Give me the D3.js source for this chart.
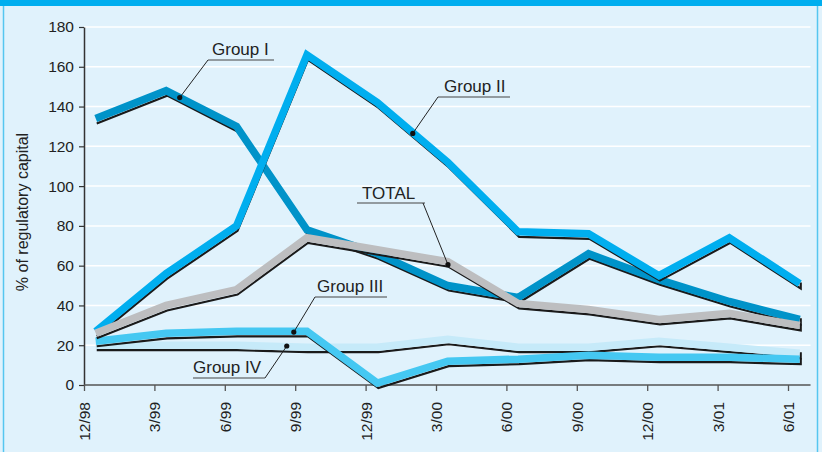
<!DOCTYPE html>
<html>
<head>
<meta charset="utf-8">
<script src="https://cdn.jsdelivr.net/npm/d3@7"></script>
<style>
	html, body { margin: 0; padding: 0; background: #e0f2fc; }
	svg { display: block; font-family: "Liberation Sans", Arial, sans-serif; }
</style>
</head>
<body>
<div id="chart"></div>
<script>
// quarter ends, x axis labels
const quarters = ["12/98", "3/99", "6/99", "9/99", "12/99", "3/00", "6/00", "9/00", "12/00", "3/01", "6/01"];
const yTicks = [0, 20, 40, 60, 80, 100, 120, 140, 160, 180];

// % of regulatory capital, one value per quarter
const groupI = [134, 148, 130, 78, 66, 50, 44, 66, 53, 42, 33];
const groupII = [27, 56, 80, 166, 142, 112, 77, 76, 55, 74, 51];
const total = [26, 40, 48, 74, 68, 62, 41, 38, 33, 36, 30];
const groupIII = [22, 26, 27, 27, 1, 12, 13, 15, 14, 14, 13];
const groupIV = [20, 20, 20, 19, 19, 23, 19, 19, 22, 19, 16];

const width = 822;
const height = 452;

const svg = d3.select("#chart")
	.append("svg")
	.attr("width", width)
	.attr("height", height);

// panel + header strip
svg.append("rect")
	.attr("width", width).attr("height", height)
	.attr("fill", "#e0f2fc");
svg.append("rect")
	.attr("x", 3.5).attr("y", 4).attr("width", 814).attr("height", height)
	.attr("fill", "none")
	.attr("stroke", "#55c6f0")
	.attr("stroke-width", 1.5);
svg.append("rect")
	.attr("width", width).attr("height", 6)
	.attr("fill", "#00aeef");

const x = d3.scaleLinear().domain([0, quarters.length - 1]).range([84, 788]);
const y = d3.scaleLinear().domain([0, 180]).range([385, 27]);
const xEnd = x(10.32);
// points sit half a month after the tick
const shift = 1 / 6;

// gridlines
svg.append("g")
	.selectAll("line")
	.data(yTicks.filter(d => d > 0))
	.enter().append("line")
	.attr("x1", x(0)).attr("x2", xEnd)
	.attr("y1", d => y(d)).attr("y2", d => y(d))
	.attr("stroke", "#ffffff")
	.attr("stroke-width", 1.5);

// axes
const yAxis = svg.append("g")
	.attr("transform", `translate(${x(0)},0)`)
	.call(d3.axisLeft(y).tickValues(yTicks).tickSize(5).tickSizeOuter(0).tickPadding(5));
yAxis.select(".domain").attr("stroke", "#333").attr("stroke-width", 1.5);
yAxis.selectAll(".tick line").attr("stroke", "#333").attr("stroke-width", 1.2);
yAxis.selectAll("text").attr("font-size", 15.5).attr("fill", "#222").attr("font-family", "Liberation Sans, Arial, sans-serif");

const xAxis = svg.append("g")
	.attr("transform", `translate(0,${y(0)})`)
	.call(d3.axisBottom(x).tickValues(d3.range(quarters.length)).tickFormat(i => quarters[i])
		.tickSize(6).tickSizeOuter(0));
xAxis.select(".domain").remove();
xAxis.selectAll(".tick line").attr("stroke", "#555").attr("stroke-width", 1.3);
xAxis.selectAll("text")
	.attr("font-size", 15.5).attr("fill", "#222").attr("font-family", "Liberation Sans, Arial, sans-serif")
	.attr("text-anchor", "end")
	.attr("transform", "rotate(-90)")
	.attr("x", -17).attr("y", 0).attr("dy", "0.35em");
svg.append("line")
	.attr("x1", x(0)).attr("x2", xEnd)
	.attr("y1", y(0)).attr("y2", y(0))
	.attr("stroke", "#555").attr("stroke-width", 1.5);

svg.append("text")
	.attr("transform", `translate(28,${(y(0) + y(180)) / 2 + 6}) rotate(-90)`)
	.attr("text-anchor", "middle")
	.attr("font-size", 16)
	.attr("fill", "#222")
	.text("% of regulatory capital");

// series: thick band with thin black edge underneath
const series = [
	{ name: "Group IV", values: groupIV, color: "#c6eaf9" },
	{ name: "Group III", values: groupIII, color: "#45c8f2" },
	{ name: "Group I", values: groupI, color: "#0093c9" },
	{ name: "Group II", values: groupII, color: "#00aeef" },
	{ name: "TOTAL", values: total, color: "#bdbec0" },
];

const line = d3.line()
	.x((d, i) => x(i + shift))
	.y(d => y(d));

for (const s of series) {
	const g = svg.append("g");
	const last = s.values.length - 1;
	const edge = s.values.map((v, i) => [x(i + shift) + 1, y(v) + 5]);
	edge.push([x(last + shift) + 1, y(s.values[last]) - 1]);
	g.append("path")
		.attr("d", d3.line()(edge))
		.attr("fill", "none")
		.attr("stroke", "#1a1a1a")
		.attr("stroke-width", 2.2)
		.attr("stroke-linejoin", "miter");
	g.append("path")
		.datum(s.values)
		.attr("d", line)
		.attr("fill", "none")
		.attr("stroke", s.color)
		.attr("stroke-width", 7.5)
		.attr("stroke-linejoin", "miter")
		.attr("stroke-linecap", "butt");
}

// labels with leader lines; dot given in data units (quarter index, value)
const labels = [
	{ text: "Group I", tx: 212, ty: 55, u1: 208, u2: 274, uy: 60, from: 208, dot: [1.36, 144.5] },
	{ text: "Group II", tx: 444, ty: 92, u1: 438, u2: 510, uy: 97, from: 438, dot: [4.67, 126.5] },
	{ text: "TOTAL", tx: 362, ty: 199, u1: 357, u2: 425, uy: 203, from: 423, dot: [5.17, 60.5] },
	{ text: "Group III", tx: 317, ty: 292, u1: 315, u2: 387, uy: 297, from: 315, dot: [2.98, 26.6] },
	{ text: "Group IV", tx: 193, ty: 373, u1: 193, u2: 265, uy: 378, from: 265, dot: [2.88, 19.6] },
];

const ann = svg.append("g");
for (const l of labels) {
	ann.append("text")
		.attr("x", l.tx).attr("y", l.ty)
		.attr("font-size", 17)
		.attr("fill", "#222")
		.text(l.text);
	ann.append("line")
		.attr("x1", l.u1).attr("x2", l.u2)
		.attr("y1", l.uy).attr("y2", l.uy)
		.attr("stroke", "#444").attr("stroke-width", 1);
	ann.append("line")
		.attr("x1", l.from).attr("y1", l.uy)
		.attr("x2", x(l.dot[0])).attr("y2", y(l.dot[1]))
		.attr("stroke", "#222").attr("stroke-width", 1);
	ann.append("circle")
		.attr("cx", x(l.dot[0])).attr("cy", y(l.dot[1]))
		.attr("r", 2.6)
		.attr("fill", "#111");
}
</script>
</body>
</html>
